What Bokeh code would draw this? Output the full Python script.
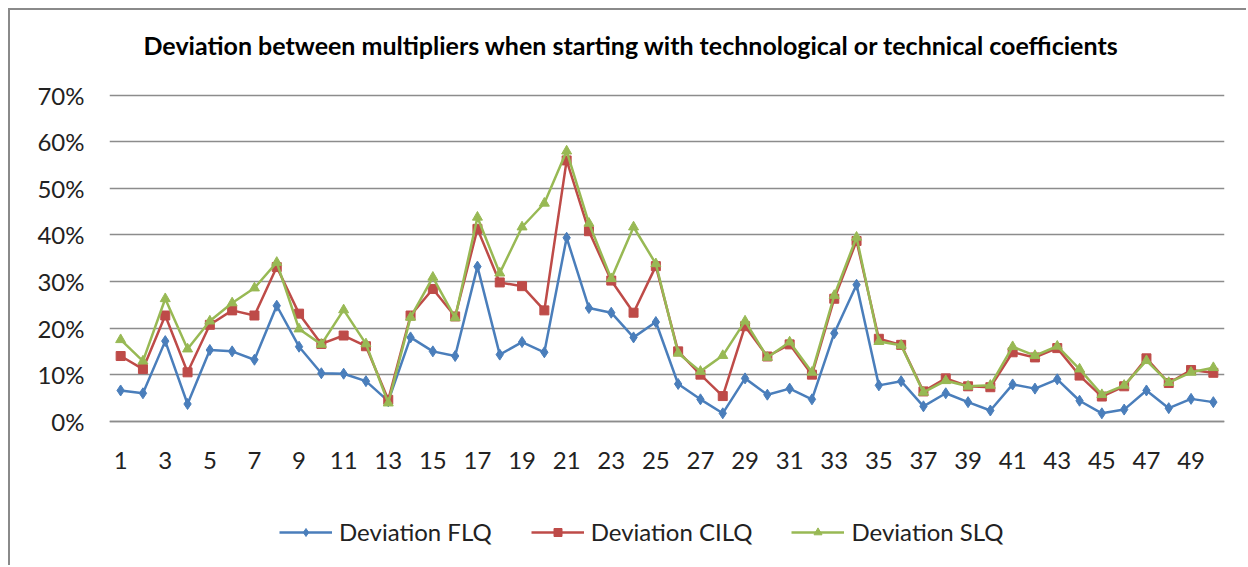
from bokeh.plotting import figure
from bokeh.models import Range1d, FixedTicker, NumeralTickFormatter, Legend, LegendItem, Title
from bokeh.embed import file_html
from bokeh.resources import INLINE

title = "Deviation between multipliers when starting with technological or technical coefficients"
sectors = list(range(1, 51))
x_ticks = list(range(1, 51, 2))
y_ticks = [0, 0.1, 0.2, 0.3, 0.4, 0.5, 0.6, 0.7]

flq = [6.6, 6.0, 17.2, 3.7, 15.3, 15.0, 13.2, 24.8, 16.0, 10.3,
       10.2, 8.6, 4.3, 18.0, 15.0, 14.0, 33.2, 14.3, 17.0, 14.8,
       39.4, 24.3, 23.3, 18.0, 21.3, 8.0, 4.7, 1.7, 9.2, 5.7,
       7.0, 4.7, 18.9, 29.3, 7.7, 8.6, 3.2, 6.0, 4.1, 2.3,
       7.9, 7.0, 9.0, 4.4, 1.7, 2.5, 6.6, 2.8, 4.8, 4.1]
cilq = [14.0, 11.2, 22.7, 10.5, 20.7, 23.8, 22.7, 33.1, 23.1, 16.6,
        18.4, 16.1, 4.6, 22.7, 28.4, 22.5, 41.3, 29.8, 29.0, 23.8,
        56.0, 40.8, 30.2, 23.3, 33.3, 15.0, 10.0, 5.4, 20.4, 13.9,
        16.5, 10.0, 26.3, 38.7, 17.7, 16.4, 6.4, 9.2, 7.5, 7.3,
        14.8, 13.7, 15.7, 9.8, 5.3, 7.5, 13.5, 8.2, 11.0, 10.4]
slq = [17.5, 12.9, 26.3, 15.5, 21.5, 25.4, 28.6, 34.1, 19.8, 16.5,
       23.9, 16.6, 3.9, 22.3, 30.9, 22.2, 43.8, 31.8, 41.7, 46.8,
       58.0, 42.5, 30.6, 41.7, 33.8, 14.6, 10.7, 14.1, 21.5, 13.7,
       17.0, 10.5, 27.0, 39.5, 17.1, 16.3, 6.2, 8.7, 7.5, 7.7,
       16.0, 14.1, 16.1, 11.2, 5.7, 7.7, 13.0, 8.3, 10.5, 11.5]

series = [
    ("Deviation FLQ", flq, "#4A7EBB", "diamond", 11),
    ("Deviation CILQ", cilq, "#BE4B48", "square", 9),
    ("Deviation SLQ", slq, "#98B954", "triangle", 10),
]

FONT = "Lato"

# the frame reaches the bottom of the figure so that the legend can sit inside it
p = figure(width=1238, height=557, output_backend="svg", toolbar_location=None,
           x_range=Range1d(0.5, 50.5), y_range=Range1d(-0.3141, 0.7037),
           min_border_left=99, min_border_right=24, min_border_top=83, min_border_bottom=0)
p.styles = {"margin-left": "8px", "margin-top": "8px",
            "border-left": "2px solid #8a8a8a", "border-top": "2px solid #8a8a8a"}

# spacer (nearest to the frame) then the real title above it
spacer = Title(text=" ", text_font=FONT, text_font_size="25px", standoff=2)
p.add_layout(spacer, "above")
main_title = Title(text=title, align="left", offset=34, text_font=FONT,
                   text_font_size="25px", text_font_style="bold",
                   text_color="#000000", standoff=0)
p.add_layout(main_title, "above")

p.outline_line_color = None
p.background_fill_color = "white"
p.border_fill_color = "white"

p.xgrid.visible = False
p.ygrid.grid_line_color = "#8c8c8c"
p.ygrid.grid_line_width = 1.5
p.ygrid.ticker = FixedTicker(ticks=y_ticks)

p.yaxis.ticker = FixedTicker(ticks=y_ticks)
p.yaxis.formatter = NumeralTickFormatter(format="0%")
p.yaxis.axis_line_color = None
p.yaxis.major_tick_line_color = None
p.yaxis.minor_tick_line_color = None
p.yaxis.major_label_standoff = 19
p.yaxis.major_label_text_font = FONT
p.yaxis.major_label_text_font_size = "24px"
p.yaxis.major_label_text_color = "#222222"

p.xaxis.fixed_location = 0
p.xaxis.ticker = FixedTicker(ticks=x_ticks)
p.xaxis.axis_line_color = "#8c8c8c"
p.xaxis.axis_line_width = 1.5
p.xaxis.major_tick_line_color = None
p.xaxis.minor_tick_line_color = None
p.xaxis.major_label_standoff = 25
p.xaxis.major_label_text_font = FONT
p.xaxis.major_label_text_font_size = "24px"
p.xaxis.major_label_text_color = "#222222"

items = []
for name, vals, color, marker, size in series:
    ys = [v / 100 for v in vals]
    r1 = p.line(sectors, ys, line_color=color, line_width=2.5)
    r2 = p.scatter(sectors, ys, marker=marker, size=size, fill_color=color, line_color=color)
    items.append(LegendItem(label=name, renderers=[r1, r2]))

legend = Legend(items=items, orientation="horizontal", location=(170, 21),
                glyph_width=53, glyph_height=20, label_standoff=7, spacing=39,
                padding=0, margin=0, border_line_color=None, background_fill_alpha=0,
                label_text_font=FONT, label_text_font_size="24px", label_text_color="#222222")
p.add_layout(legend, "center")

open("out.html", "w").write(file_html(p, INLINE))
